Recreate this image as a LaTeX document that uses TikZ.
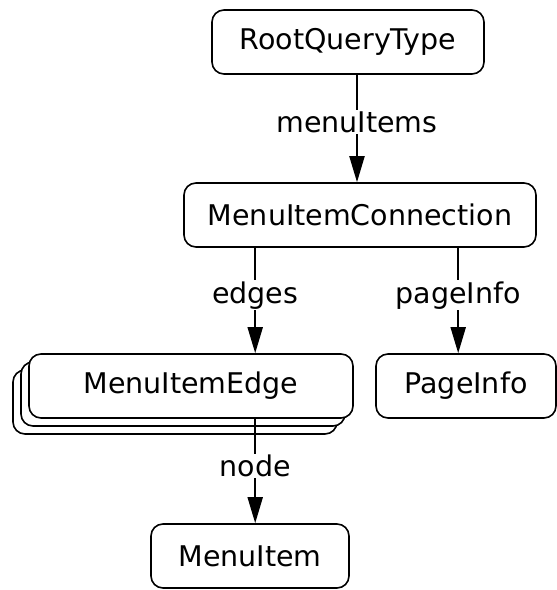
\documentclass[tikz,border=0pt]{standalone}
\usepackage{fontspec}
\setmainfont{DejaVu Sans}
\usetikzlibrary{arrows.meta,shadows}
\begin{document}
\begin{tikzpicture}[x=1pt,y=-1pt,
  font=\fontsize{28.5}{33}\selectfont,
  box/.style={draw,rounded corners=12pt,fill=white,line width=1.6pt,inner sep=0pt,minimum height=64pt},
  lbl/.style={fill=white,inner sep=1pt},
  conn/.style={line width=2pt,-{Triangle[length=26pt,width=15pt]}}]
  \useasboundingbox (0,0) rectangle (557,590);
  \node[box,minimum width=272pt] (root) at (348,42) {RootQueryType};
  \node[box,minimum width=352pt] (mic) at (360,215) {MenuItemConnection};
  \node[box,minimum width=324pt,double copy shadow={shadow xshift=-8pt,shadow yshift=-8pt}] (edge) at (191,386) {MenuItemEdge};
  \node[box,minimum width=180pt] (page) at (466,386) {PageInfo};
  \node[box,minimum width=198pt] (item) at (250,556) {MenuItem};
  \draw[conn] ([xshift=9pt]root.south) -- ([xshift=-3pt]mic.north) node[lbl,pos=0.44] {menuItems};
  \draw[conn] ([xshift=72pt]mic.south west) -- ([xshift=227pt]edge.north west) node[lbl,pos=0.45] {edges};
  \draw[conn] ([xshift=275pt]mic.south west) -- ([xshift=83pt]page.north west) node[lbl,pos=0.45] {pageInfo};
  \draw[conn] ([xshift=227pt]edge.south west) -- ([xshift=105pt]item.north west) node[lbl,pos=0.45] {node};
\end{tikzpicture}
\end{document}
